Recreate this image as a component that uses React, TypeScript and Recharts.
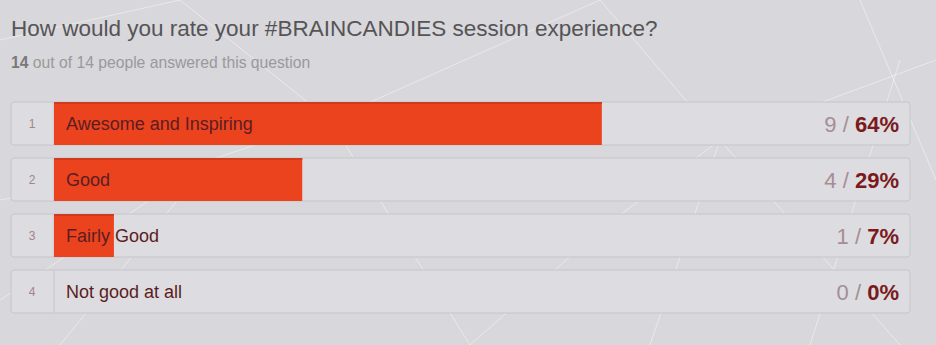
import { BarChart, Bar, XAxis, YAxis, LabelList } from 'recharts';

// survey answers, top to bottom
const answers = ['Awesome and Inspiring', 'Good', 'Fairly Good', 'Not good at all'];
const votes = [9, 4, 1, 0];
const percents = [64, 29, 7, 0];
const totalAnswered = 14;
const totalPeople = 14;

const data = answers.map((label, i) => ({
  label,
  votes: votes[i],
  pct: percents[i],
}));

const W = 936;
const H = 345;
const margin = { top: 95, right: 26, bottom: 26, left: 54 };
const FONT = '"Liberation Sans", Arial, Helvetica, sans-serif';

// faint mesh in the page background
const mesh = [
  [0, 40, 180, 0], [180, 0, 330, 120], [330, 120, 600, 0], [600, 0, 720, 140],
  [720, 140, 936, 60], [0, 200, 210, 160], [210, 160, 330, 120], [210, 160, 60, 345],
  [330, 120, 470, 345], [720, 140, 650, 345], [720, 140, 900, 345], [860, 0, 936, 180],
  [470, 345, 600, 230], [600, 230, 720, 140], [0, 300, 210, 160], [900, 60, 810, 345],
];

function RowBox(props: any) {
  const { x, y, width, height } = props;
  return (
    <g>
      <rect x={x - 43} y={y} width={width + 43} height={height} rx={3} fill="#dddce0" stroke="#c6c5c9" />
      <line x1={x} y1={y} x2={x} y2={y + height} stroke="#c6c5c9" />
    </g>
  );
}

function BarShape(props: any) {
  const { x, y, width, height } = props;
  if (!width || width <= 0) return null;
  return (
    <g>
      <rect x={x} y={y} width={width} height={height} fill="#ec431f" />
      <rect x={x} y={y} width={width} height={2} fill="#d3391b" />
    </g>
  );
}

function RowLabels(props: any) {
  const vb = props.viewBox || props;
  const i = props.index;
  const d = data[i];
  const cy = vb.y + vb.height / 2;
  const right = W - margin.right - 11;
  return (
    <g fontFamily={FONT}>
      <text x={vb.x - 22} y={cy + 4} textAnchor="middle" fontSize={12} fill="#a08489">{i + 1}</text>
      <text x={vb.x + 12} y={cy + 6.5} fontSize={18} fill="#5b1d22">{d.label}</text>
      <text x={right} y={cy + 8} textAnchor="end" fontSize={22}>
        <tspan fill="#a58d93">{d.votes} / </tspan>
        <tspan fill="#7a1a1c" fontWeight="bold">{d.pct}%</tspan>
      </text>
    </g>
  );
}

export default function App() {
  return (
    <div style={{ position: 'absolute', left: 0, top: 0, width: W, height: H, background: '#d8d7db', overflow: 'hidden', fontFamily: FONT }}>
      <svg width={W} height={H} style={{ position: 'absolute', left: 0, top: 0 }}>
        {mesh.map((l, i) => (
          <line key={i} x1={l[0]} y1={l[1]} x2={l[2]} y2={l[3]} stroke="#ffffff" strokeOpacity={0.45} strokeWidth={1} />
        ))}
      </svg>
      <div style={{ position: 'absolute', left: 11, top: 16, fontSize: 22.5, color: '#555456', whiteSpace: 'nowrap' }}>
        How would you rate your #BRAINCANDIES session experience?
      </div>
      <div style={{ position: 'absolute', left: 11, top: 54, fontSize: 15.7, color: '#9a999c', whiteSpace: 'nowrap' }}>
        <b style={{ color: '#7a797c' }}>{totalAnswered}</b> out of {totalPeople} people answered this question
      </div>
      <div style={{ position: 'absolute', left: 0, top: 0 }}>
        <BarChart width={W} height={H} data={data} layout="vertical" margin={margin} barSize={43}>
          <XAxis type="number" domain={[0, 100]} hide />
          <YAxis type="category" dataKey="label" hide />
          <Bar dataKey="pct" isAnimationActive={false} background={<RowBox />} shape={<BarShape />}>
            <LabelList dataKey="pct" content={<RowLabels />} />
          </Bar>
        </BarChart>
      </div>
    </div>
  );
}
